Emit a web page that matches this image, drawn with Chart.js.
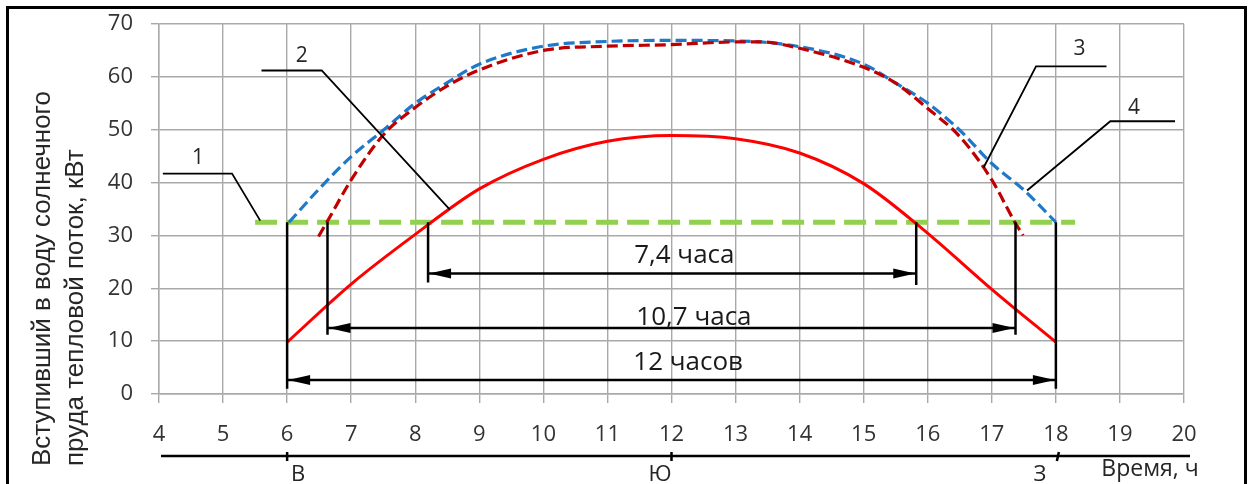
<!DOCTYPE html>
<html>
<head>
<meta charset="utf-8">
<script src="https://cdn.jsdelivr.net/npm/chart.js@4"></script>
<style>
  body { margin: 0; background: #fff; }
  canvas { display: block; }
</style>
</head>
<body>
<canvas id="pond" width="1251" height="484"></canvas>
<script>
// line 1 - required heat flow (threshold)
const threshX = [5.5, 18.3];
const threshY = [32.5, 32.5];

// line 2 - heat flow into the pond water (red)
const flowX = [6, 7, 8, 9, 10, 11, 12, 13, 14, 15, 16, 17, 18];
const flowY = [9.8, 20.8, 30.2, 38.8, 44.4, 47.8, 48.9, 48.3, 45.6, 39.8, 30.4, 19.8, 9.8];

// line 3 - dark red dashed
const line3X = [6.49, 6.62, 7, 7.5, 8, 8.5, 9, 10, 11, 12, 13, 13.4, 14, 15, 15.5, 16, 16.5, 17, 17.36, 17.49];
const line3Y = [29.8, 32.5, 40.5, 49.0, 54.2, 58.3, 61.3, 65.0, 65.8, 66.1, 66.6, 66.6, 65.4, 61.8, 58.8, 54.0, 48.7, 40.5, 32.5, 30.0];

// line 4 - blue dashed
const line4X = [6.03, 6.5, 7, 7.5, 8, 8.5, 9, 10, 11, 12, 13, 14, 15, 15.5, 16, 16.5, 17, 17.5, 18];
const line4Y = [32.5, 38.8, 44.9, 49.9, 55.0, 58.9, 62.4, 65.8, 66.7, 66.9, 66.8, 65.7, 62.4, 58.8, 55.0, 49.9, 43.6, 38.6, 32.5];

// vertical marks from threshold down
const markX = [6, 6.63, 8.2, 15.82, 17.37, 18];
const markBottom = [1, 11.2, 21.1, 20.6, 11.2, 1];

// duration arrows
const spanStart = [8.2, 6.63, 6];
const spanEnd = [15.82, 17.37, 18];
const spanY = [22.8, 12.5, 2.65];
const spanLabels = ['7,4 часа', '10,7 часа', '12 часов'];
const spanLabelX = [12.2, 12.35, 12.26];
const spanLabelY = [24.7, 13.05, 4.5];

// numbered leader lines
const leaderNames = ['1', '2', '3', '4'];
const leaderX = [[4.06, 5.14, 5.58], [5.6, 6.54, 8.54], [18.79, 17.69, 16.87], [19.86, 18.85, 17.55]];
const leaderY = [[41.7, 41.7, 32.8], [61.2, 61.2, 34.9], [62.0, 62.0, 42.8], [51.6, 51.6, 38.5]];
const leaderLabelX = [4.61, 6.23, 18.37, 19.22];
const leaderLabelY = [43.6, 62.8, 64.2, 52.9];

// compass direction axis
const compassTicks = [6, 12, 18];
const compassNames = ['В', 'Ю', 'З'];
const compassLabelX = [6.17, 11.82, 17.75];

const xTicks = [4, 20, 1];
const yTicks = [0, 70, 10];

const yTitle = ['Вступивший в воду солнечного', 'пруда тепловой поток, кВт'];
const xTitle = 'Время, ч';

const pts = (xs, ys) => xs.map((v, i) => ({ x: v, y: ys[i] }));

const datasets = [];
datasets.push({ data: pts(threshX, threshY), borderColor: '#92D050', borderWidth: 5, borderDash: [22, 9], order: 5 });
datasets.push({ data: pts(line4X, line4Y), borderColor: '#1F78C8', borderWidth: 3.2, borderDash: [11, 5], cubicInterpolationMode: 'monotone', order: 4 });
datasets.push({ data: pts(line3X, line3Y), borderColor: '#C00000', borderWidth: 3.2, borderDash: [11, 5], cubicInterpolationMode: 'monotone', order: 3 });
datasets.push({ data: pts(flowX, flowY), borderColor: '#FF0000', borderWidth: 3, cubicInterpolationMode: 'monotone', order: 2 });
markX.forEach((m, i) => {
  datasets.push({ data: pts([m, m], [threshY[0], markBottom[i]]), borderColor: '#000', borderWidth: 2.5, order: 1 });
});
spanStart.forEach((s, i) => {
  datasets.push({ data: pts([s, spanEnd[i]], [spanY[i], spanY[i]]), borderColor: '#000', borderWidth: 2.5, order: 1 });
});
leaderX.forEach((lx, i) => {
  datasets.push({ data: pts(lx, leaderY[i]), borderColor: '#000', borderWidth: 1.8, order: 1 });
});

function arrowHead(ctx, tipX, tipY, dir) {
  ctx.beginPath();
  ctx.moveTo(tipX, tipY);
  ctx.lineTo(tipX + dir * 22, tipY - 5);
  ctx.lineTo(tipX + dir * 22, tipY + 5);
  ctx.closePath();
  ctx.fill();
}

const overlay = {
  id: 'overlay',
  beforeDraw(chart) {
    const ctx = chart.ctx;
    ctx.save();
    ctx.fillStyle = '#fff';
    ctx.fillRect(0, 0, chart.width, chart.height);
    ctx.restore();
  },
  afterDraw(chart) {
    const { ctx, chartArea, scales: { x, y } } = chart;
    ctx.save();
    ctx.fillStyle = '#000';
    ctx.strokeStyle = '#000';

    // arrows and duration labels
    ctx.font = '26px "Open Sans"';
    ctx.textAlign = 'center';
    ctx.textBaseline = 'alphabetic';
    spanStart.forEach((s, i) => {
      const py = y.getPixelForValue(spanY[i]);
      arrowHead(ctx, x.getPixelForValue(s) + 1, py, 1);
      arrowHead(ctx, x.getPixelForValue(spanEnd[i]) - 1, py, -1);
      ctx.fillStyle = '#1a1a1a';
      ctx.fillText(spanLabels[i], x.getPixelForValue(spanLabelX[i]), y.getPixelForValue(spanLabelY[i]));
      ctx.fillStyle = '#000';
    });

    // leader numbers
    ctx.font = '21px "Open Sans"';
    ctx.fillStyle = '#262626';
    leaderNames.forEach((n, i) => {
      ctx.fillText(n, x.getPixelForValue(leaderLabelX[i]), y.getPixelForValue(leaderLabelY[i]));
    });

    // compass axis
    const cy = chartArea.bottom + 62;
    ctx.lineWidth = 2.5;
    ctx.beginPath();
    ctx.moveTo(chartArea.left + 2, cy);
    ctx.lineTo(chartArea.right + 6, cy);
    ctx.stroke();
    compassTicks.forEach((t) => {
      const px = x.getPixelForValue(t);
      ctx.beginPath();
      ctx.moveTo(px + (t === 18 ? 3 : 0), cy - 4);
      ctx.lineTo(px + (t === 18 ? 1 : 0), cy + 5);
      ctx.stroke();
    });
    ctx.font = '22px "Open Sans"';
    ctx.fillStyle = '#262626';
    ctx.textBaseline = 'middle';
    compassNames.forEach((n, i) => {
      ctx.fillText(n, x.getPixelForValue(compassLabelX[i]), cy + 19);
    });
    ctx.font = '23px "Open Sans"';
    ctx.fillText(xTitle, chartArea.right - 34, cy + 13);

    // y axis title, two lines starting at the bottom
    ctx.save();
    ctx.font = '26px "Liberation Sans"';
    ctx.fillStyle = '#262626';
    ctx.textAlign = 'left';
    ctx.textBaseline = 'alphabetic';
    [50, 83].forEach((bx, i) => {
      ctx.save();
      ctx.translate(bx, 466);
      ctx.rotate(-Math.PI / 2);
      ctx.fillText(yTitle[i], 0, 0);
      ctx.restore();
    });
    ctx.restore();

    // frame
    ctx.lineWidth = 3;
    ctx.beginPath();
    ctx.moveTo(7.5, chart.height + 2);
    ctx.lineTo(7.5, 7.5);
    ctx.lineTo(1245.5, 7.5);
    ctx.lineTo(1245.5, chart.height + 2);
    ctx.stroke();
    ctx.restore();
  }
};

new Chart(document.getElementById('pond'), {
  type: 'scatter',
  data: { datasets: datasets.map((d) => Object.assign({ showLine: true, pointRadius: 0, pointHoverRadius: 0, fill: false }, d)) },
  options: {
    responsive: false,
    animation: false,
    events: [],
    layout: { padding: { left: 0, right: 67, top: 24, bottom: 0 } },
    plugins: { legend: { display: false }, tooltip: { enabled: false } },
    scales: {
      x: {
        type: 'linear',
        min: xTicks[0],
        max: xTicks[1],
        afterFit: (s) => { s.height = 90; },
        ticks: { stepSize: xTicks[2], color: '#333', font: { family: 'Open Sans', size: 22 }, padding: 19, maxRotation: 0 },
        grid: { color: '#a9a9a9', lineWidth: 1.4, tickLength: 9 },
        border: { color: '#a9a9a9', width: 1.4 }
      },
      y: {
        min: yTicks[0],
        max: yTicks[1],
        afterFit: (s) => { s.width = 159; s.paddingTop = 0; s.paddingBottom = 0; },
        ticks: { stepSize: yTicks[2], color: '#333', font: { family: 'Open Sans', size: 22 }, padding: 18 },
        grid: { color: '#a9a9a9', lineWidth: 1.4, tickLength: 8 },
        border: { color: '#a9a9a9', width: 1.4 }
      }
    }
  },
  plugins: [overlay]
});
</script>
</body>
</html>
